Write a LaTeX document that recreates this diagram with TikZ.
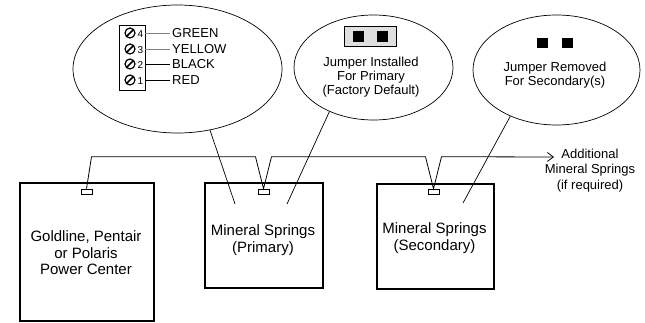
\documentclass[tikz,border=0pt]{standalone}
\usepackage{fontspec}
\setmainfont{Liberation Sans}
\usetikzlibrary{arrows,arrows.meta,shapes,positioning,calc}
\tikzstyle{wire} = [line width=0.8pt]
\tikzstyle{arrow} = [wire,-{Straight Barb[length=6pt,width=9pt]}]
\tikzstyle{unitbox} = [rectangle, draw, line width=1.7pt, inner sep=0pt, anchor=north west]
\tikzstyle{plug} = [rectangle, draw, line width=0.6pt, minimum width=11pt, minimum height=5pt, inner sep=0pt]
\tikzstyle{bubble} = [ellipse, draw, line width=0.7pt, inner sep=0pt]
\tikzstyle{pointer} = [line width=0.7pt]
\tikzstyle{screw} = [circle, draw, line width=1.2pt, minimum size=10pt, inner sep=0pt, path picture={\draw[line width=1.6pt] (path picture bounding box.south west) -- (path picture bounding box.north east);}]
\tikzstyle{pin} = [rectangle, fill=black, minimum size=11pt, inner sep=0pt]
\tikzstyle{boxtext} = [font=\fontsize{15}{16.5}\selectfont, align=center]
\tikzstyle{bubbletext} = [font=\fontsize{13}{14}\selectfont, align=center]
\tikzstyle{wirelabel} = [font=\fontsize{13}{14}\selectfont, anchor=west, inner sep=2pt]
\tikzstyle{termno} = [font=\fontsize{10}{10}\selectfont, inner sep=0pt]
\begin{document}
\begin{tikzpicture}[x=1pt,y=-1pt]
\useasboundingbox (0,0) rectangle (645,322);

% Units
\node[unitbox, minimum width=134pt, minimum height=138pt] (power) at (19,182) {};
\node[unitbox, minimum width=118pt, minimum height=105pt] (primary) at (204,182) {};
\node[unitbox, minimum width=117pt, minimum height=105pt] (secondary) at (376,183) {};
\node[boxtext] (powertext) at (86,253) {Goldline, Pentair\\or Polaris\\Power Center};
\node[boxtext] (primtext) at (263,240) {Mineral Springs\\(Primary)};
\node[boxtext] (sectext) at (434.5,238) {Mineral Springs\\(Secondary)};

% Plugs
\node[plug] (plug1) at (86.5,191.5) {};
\node[plug] (plug2) at (263.5,191.5) {};
\node[plug] (plug3) at (433.5,191.5) {};

% Bus
\coordinate (tip) at (554,157);
\draw[arrow] (plug1.north) -- ++(5,-32) -- ($(plug2.north)+(-8,-32)$) -- (plug2.north) -- ++(8,-32) -- ($(plug3.north)+(-8,-32)$) -- (plug3.north) -- ++(8,-32) -- (tip);
\node[bubbletext, font=\fontsize{13}{15.5}\selectfont] (more) at (590,170.5) {Additional\\Mineral Springs\\(if required)};

% Bubbles
\node[bubble, minimum width=209pt, minimum height=128pt] (wiring) at (177.5,69) {};
\node[bubble, minimum width=159pt, minimum height=105pt] (installed) at (373.5,67.5) {};
\node[bubble, minimum width=167pt, minimum height=110pt] (removed) at (556.5,70) {};

\coordinate (w1) at (235,204);
\coordinate (w2) at (287,204);
\coordinate (w3) at (463,203);
\draw[pointer] (wiring.-62) -- (w1);
\draw[pointer] (installed.-135) -- (w2);
\draw[pointer] (removed.-135) -- (w3);

% Terminal block
\node[rectangle, draw, line width=0.8pt, minimum width=26pt, minimum height=65pt, inner sep=0pt] (tblock) at (132,57.5) {};
\node[screw] (s4) at (130,33) {};
\node[screw] (s3) at (130,49) {};
\node[screw] (s2) at (130,64) {};
\node[screw] (s1) at (130,80) {};
\node[termno] (n4) at (140.5,34) {4};
\node[termno] (n3) at (140.5,50) {3};
\node[termno] (n2) at (140.5,65) {2};
\node[termno] (n1) at (140.5,81) {1};
\node[wirelabel] (green) at (170,33) {GREEN};
\node[wirelabel] (yellow) at (170,49) {YELLOW};
\node[wirelabel] (black) at (170,64) {BLACK};
\node[wirelabel] (red) at (170,80) {RED};
\draw[wire, gray] (tblock.east |- green) -- (green.west);
\draw[wire, gray] (tblock.east |- yellow) -- (yellow.west);
\draw[wire] (tblock.east |- black) -- (black.west);
\draw[wire] (tblock.east |- red) -- (red.west);

% Jumper installed
\node[rectangle, draw, fill=gray!25, line width=0.8pt, minimum width=52pt, minimum height=20pt, inner sep=0pt] (jumper) at (370,36) {};
\node[pin] (pinA) at ([xshift=-11.5pt]jumper.center) {};
\node[pin] (pinB) at ([xshift=12.5pt]jumper.center) {};
\node[bubbletext] (insttext) at (371,77) {Jumper Installed\\For Primary\\(Factory Default)};

% Jumper removed
\node[pin, minimum height=10pt] (pinC) at (542.5,43) {};
\node[pin, minimum height=10pt] (pinD) at (567.5,43) {};
\node[bubbletext] (remtext) at (555,75.5) {Jumper Removed\\For Secondary(s)};
\end{tikzpicture}
\end{document}
